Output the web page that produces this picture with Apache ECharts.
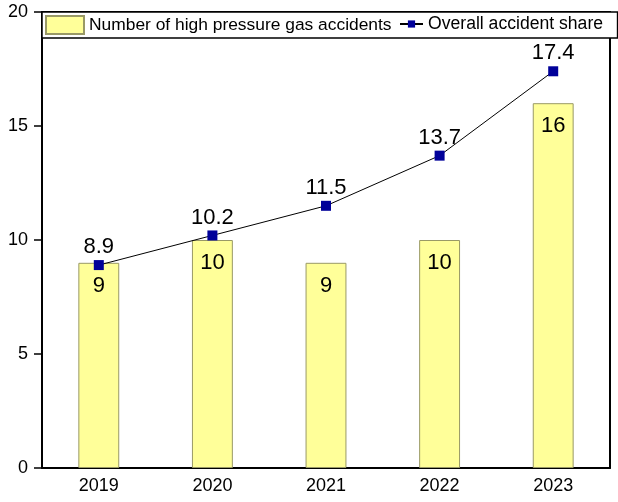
<!DOCTYPE html>
<html>
<head>
<meta charset="utf-8">
<script src="https://cdn.jsdelivr.net/npm/echarts@6/dist/echarts.min.js"></script>
<style>
  html, body { margin: 0; padding: 0; background: #fff; }
  #chart { width: 618px; height: 502px; }
</style>
</head>
<body>
<div id="chart"></div>
<script>
var years = ['2019', '2020', '2021', '2022', '2023']
var accidentCounts = [9, 10, 9, 10, 16]
var accidentShare = [8.9, 10.2, 11.5, 13.7, 17.4]
var yTicks = [0, 5, 10, 15, 20]

var chart = echarts.init(document.getElementById('chart'))
var font = 'Arial, "Liberation Sans", sans-serif'

chart.setOption({
  animation: false,
  textStyle: { fontFamily: font, color: '#000' },
  legend: [{
    // bar entry, its border makes the box across the plot top
    left: 42,
    top: 12,
    padding: [3, 226, 3, 3],
    itemGap: 5,
    itemWidth: 38,
    itemHeight: 18,
    borderColor: '#000',
    borderWidth: 1.5,
    backgroundColor: '#fff',
    textStyle: { fontFamily: font, fontSize: 17.4, color: '#000' },
    data: [{ name: 'Number of high pressure gas accidents', icon: 'rect' }],
    z: 5
  }, {
    left: 399,
    top: 15,
    padding: 0,
    itemGap: 5,
    itemWidth: 23,
    itemHeight: 9,
    textStyle: { fontFamily: font, fontSize: 17.6, color: '#000' },
    data: [{ name: 'Overall accident share' }],
    z: 6
  }],
  grid: { left: 42, right: 8, top: 12, bottom: 34 },
  xAxis: [{
    type: 'category',
    data: years,
    boundaryGap: true,
    axisLine: { lineStyle: { color: '#000', width: 2 } },
    axisTick: { show: false },
    axisLabel: { fontSize: 18, color: '#000', margin: 9, fontFamily: font },
    splitLine: { show: false }
  }, {
    type: 'category',
    data: years,
    position: 'top',
    axisLine: { show: true, onZero: false, lineStyle: { color: '#000', width: 2 } },
    axisTick: { show: false },
    axisLabel: { show: false }
  }],
  yAxis: [{
    type: 'value',
    min: yTicks[0],
    max: yTicks[yTicks.length - 1],
    interval: 5,
    axisLine: { show: true, lineStyle: { color: '#000', width: 2 } },
    axisTick: { show: true, inside: false, length: 8, lineStyle: { color: '#000', width: 1.5 } },
    axisLabel: { fontSize: 18, color: '#000', margin: 14, fontFamily: font },
    splitLine: { show: false }
  }, {
    type: 'value',
    position: 'right',
    min: 0,
    max: 20,
    interval: 5,
    axisLine: { show: true, onZero: false, lineStyle: { color: '#000', width: 2 } },
    axisTick: { show: false },
    axisLabel: { show: false },
    splitLine: { show: false }
  }],
  series: [{
    name: 'Number of high pressure gas accidents',
    type: 'bar',
    data: accidentCounts,
    barWidth: '36%',
    itemStyle: { color: '#ffff99', borderColor: '#999966', borderWidth: 1 },
    label: {
      show: true,
      position: 'insideTop',
      distance: 12,
      fontSize: 22,
      color: '#000',
      fontFamily: font
    },
    z: 2
  }, {
    name: 'Overall accident share',
    type: 'line',
    data: accidentShare,
    symbol: 'rect',
    symbolSize: 10,
    itemStyle: { color: '#000099' },
    lineStyle: { color: '#000', width: 1 },
    label: {
      show: true,
      position: 'top',
      distance: 2,
      fontSize: 22,
      color: '#000',
      fontFamily: font
    },
    z: 3
  }]
})
</script>
</body>
</html>
